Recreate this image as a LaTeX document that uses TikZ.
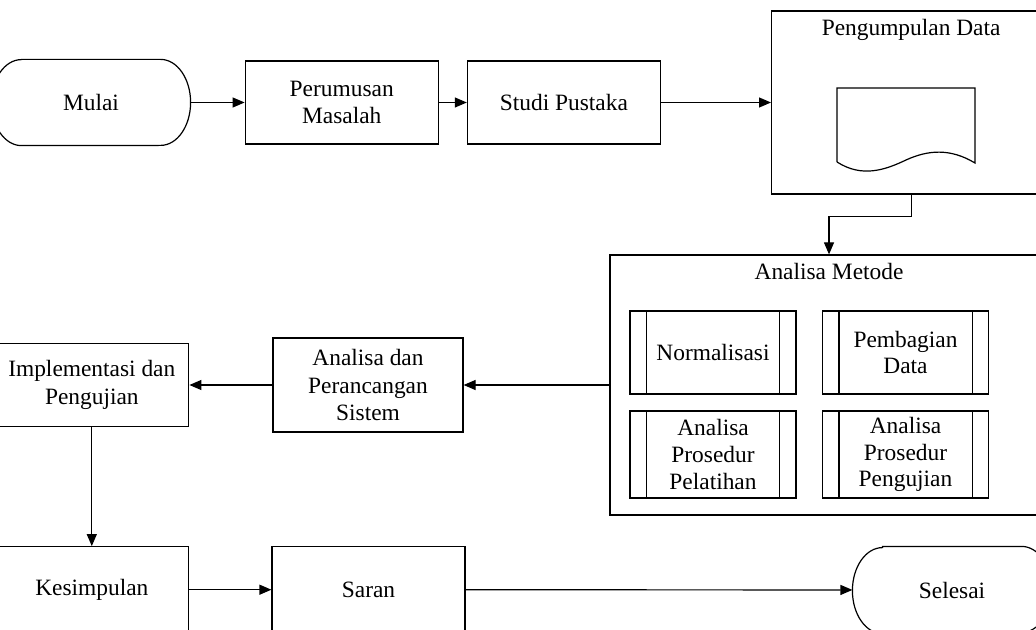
\documentclass[tikz,border=0pt]{standalone}
\usepackage{fontspec}
\setmainfont{Liberation Serif}
\usetikzlibrary{arrows.meta, positioning, calc}
\tikzset{
    flowchart/.style={>={Triangle[length=6pt, width=5pt]}, line width=0.6pt, font=\fontsize{11.7}{13.8}\selectfont, x=0.5pt, y=-0.5pt},
    block/.style={draw, minimum width=96.5pt, minimum height=41.5pt, align=center, inner sep=2pt},
    terminal/.style={minimum width=99pt, minimum height=42.5pt, align=center},
    group/.style={draw, align=center},
    subproc/.style={draw, minimum width=83pt, minimum height=41.5pt, align=center, inner sep=0pt, font=\fontsize{11.7}{13.3}\selectfont},
    title/.style={anchor=base},
}

\begin{document}
\begin{tikzpicture}[flowchart]
    \useasboundingbox (0,0) rectangle (1036,630);
    \clip (0,0) rectangle (1036,630);

    % top row
    \node[terminal]                                  (mulai)       at (91,102.5) {Mulai};
    \node[block, right=27pt of mulai]                (perumusan)   {Perumusan\\Masalah};
    \node[block, right=14pt of perumusan]            (studi)       {Studi Pustaka};
    \node[group, minimum width=139.5pt, minimum height=91.5pt, right=55pt of studi] (pengumpulan) {};
    \node[title] (pengumpulan-title) at ([yshift=-12.5pt]pengumpulan.north) {Pengumpulan Data};

    % method analysis
    \node[group, minimum width=219pt, minimum height=130pt] (metode) at (829,385) {};
    \node[title] (metode-title) at ([yshift=-12.5pt]metode.north) {Analisa Metode};
    \node[subproc] (norm)  at (713,352.5)   {Normalisasi};
    \node[subproc] (bagi)  at (905.5,352.5) {Pembagian\\Data};
    \node[subproc, minimum height=43.5pt] (latih) at (713,454.5)   {Analisa\\Prosedur\\Pelatihan};
    \node[subproc, minimum height=43.5pt] (uji)   at (905.5,454.5) {Analisa\\Prosedur\\Pengujian};

    % middle row
    \node[block, minimum width=95pt, minimum height=47pt] (perancangan) at (368,385) {Analisa dan\\Perancangan\\Sistem};
    \node[block, minimum width=97pt, left=41.5pt of perancangan] (implementasi) {Implementasi dan\\Pengujian};

    % bottom row
    \node[block, minimum width=97pt, minimum height=43pt, below=59.5pt of implementasi] (kesimpulan) {Kesimpulan};
    \node[block, minimum height=43pt, right=41pt of kesimpulan] (saran) {Saran};
    \node[terminal, minimum height=43pt] (selesai) at (952,590) {Selesai};

    % terminal outlines
    \foreach \t in {mulai, selesai}
        \draw ([xshift=15pt]\t.north west) -- ([xshift=-15pt]\t.north east)
            arc[start angle=90, end angle=-90, x radius=15pt, y radius=21.5pt]
            -- ([xshift=15pt]\t.south west)
            arc[start angle=270, end angle=90, x radius=15pt, y radius=21.5pt] -- cycle;

    % predefined process bars
    \foreach \s in {norm, bagi, latih, uji} {
        \draw ([xshift=8.5pt]\s.north west) -- ([xshift=8.5pt]\s.south west);
        \draw ([xshift=-8.5pt]\s.north east) -- ([xshift=-8.5pt]\s.south east);
    }

    % document symbol
    \draw (837,162) -- (837,88) -- (975,88) -- (975,163)
        .. controls (950,148) and (928,150) .. (906,160)
        .. controls (885,170) and (862,178) .. (837,162);

    \draw[->] (mulai) -- (perumusan);
    \draw[->] (perumusan) -- (studi);
    \draw[->] (studi) -- (pengumpulan);
    \draw[->] (pengumpulan.south) -- ++(0,22) -| (metode.north);
    \draw[->] (metode) -- (perancangan);
    \draw[->] (perancangan) -- (implementasi);
    \draw[->] (implementasi) -- (kesimpulan);
    \draw[->] (kesimpulan) -- (saran);
    \draw[->] (saran) -- (selesai);
\end{tikzpicture}
\end{document}
